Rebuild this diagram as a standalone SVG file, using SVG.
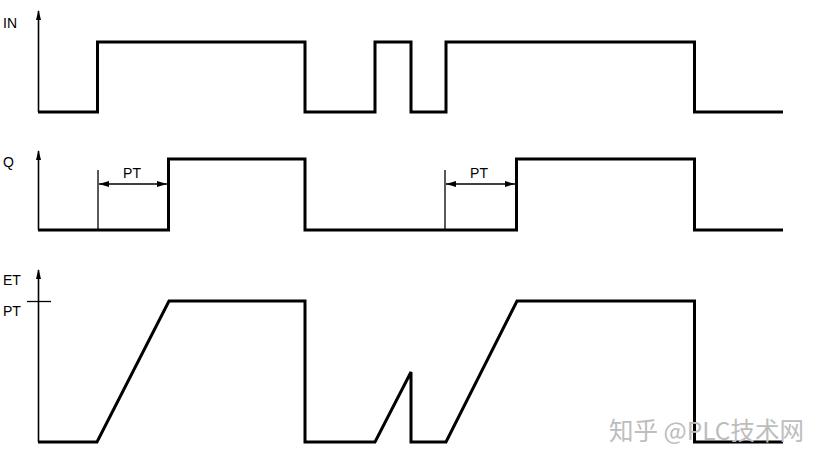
<svg xmlns="http://www.w3.org/2000/svg" width="826" height="462" viewBox="0 0 826 462">
<defs>
<marker id="ax" viewBox="0 0 10 6" refX="9" refY="3" markerWidth="10" markerHeight="6" markerUnits="userSpaceOnUse" orient="auto">
<path d="M0,0.5 L10,3 L0,5.5 Z" fill="#000"/>
</marker>
<marker id="dim" viewBox="0 0 10 6" refX="10" refY="3" markerWidth="10" markerHeight="6" markerUnits="userSpaceOnUse" orient="auto-start-reverse">
<path d="M0,0 L10,3 L0,6 Z" fill="#000"/>
</marker>
</defs>
<style>
.lbl{font-family:"Liberation Sans",Arial,sans-serif;font-size:14px;fill:#000}
.axis{stroke:#000;stroke-width:1.6;fill:none}
.sig{stroke:#000;stroke-width:3;fill:none;stroke-linejoin:miter}
.thin{stroke:#000;stroke-width:1.3;fill:none}
.wm{font-family:"Noto Sans CJK SC","Liberation Sans",sans-serif;font-size:24.5px;fill:#bdbdbd}
</style>
<rect width="826" height="462" fill="#fff"/>
<g id="axes">
<line class="axis" x1="38.5" y1="112" x2="38.5" y2="11" marker-end="url(#ax)"/>
<line class="axis" x1="38.5" y1="230" x2="38.5" y2="151" marker-end="url(#ax)"/>
<line class="axis" x1="38.5" y1="442" x2="38.5" y2="270" marker-end="url(#ax)"/>
<line class="thin" x1="27" y1="301.5" x2="51" y2="301.5"/>
</g>
<g id="labels">
<text class="lbl" x="3" y="28">IN</text>
<text class="lbl" x="3" y="167">Q</text>
<text class="lbl" x="3" y="285">ET</text>
<text class="lbl" x="3" y="316">PT</text>
</g>
<g id="signal-IN">
<polyline class="sig" points="38,112 97.5,112 97.5,42 305,42 305,112 375,112 375,42 411,42 411,112 446,112 446,42 694.5,42 694.5,112 783,112"/>
</g>
<g id="signal-Q">
<polyline class="sig" points="38,230 168.5,230 168.5,159 305,159 305,230 516.5,230 516.5,159 694.5,159 694.5,230 783,230"/>
</g>
<g id="signal-ET">
<polyline class="sig" points="38,442 97,442 169,301 305,301 305,442 375,442 411,372 411,442 446,442 517,301 694.5,301 694.5,442 783,442"/>
</g>
<g id="connectors">
<line class="thin" x1="98" y1="170" x2="98" y2="230"/>
<line class="thin" x1="99" y1="184" x2="167" y2="184" marker-start="url(#dim)" marker-end="url(#dim)"/>
<text class="lbl" x="132" y="178" text-anchor="middle">PT</text>
<line class="thin" x1="445" y1="170" x2="445" y2="230"/>
<line class="thin" x1="446" y1="184" x2="515" y2="184" marker-start="url(#dim)" marker-end="url(#dim)"/>
<text class="lbl" x="479" y="178" text-anchor="middle">PT</text>
</g>
<text class="wm" x="609" y="440">知乎 @PLC技术网</text>
</svg>
